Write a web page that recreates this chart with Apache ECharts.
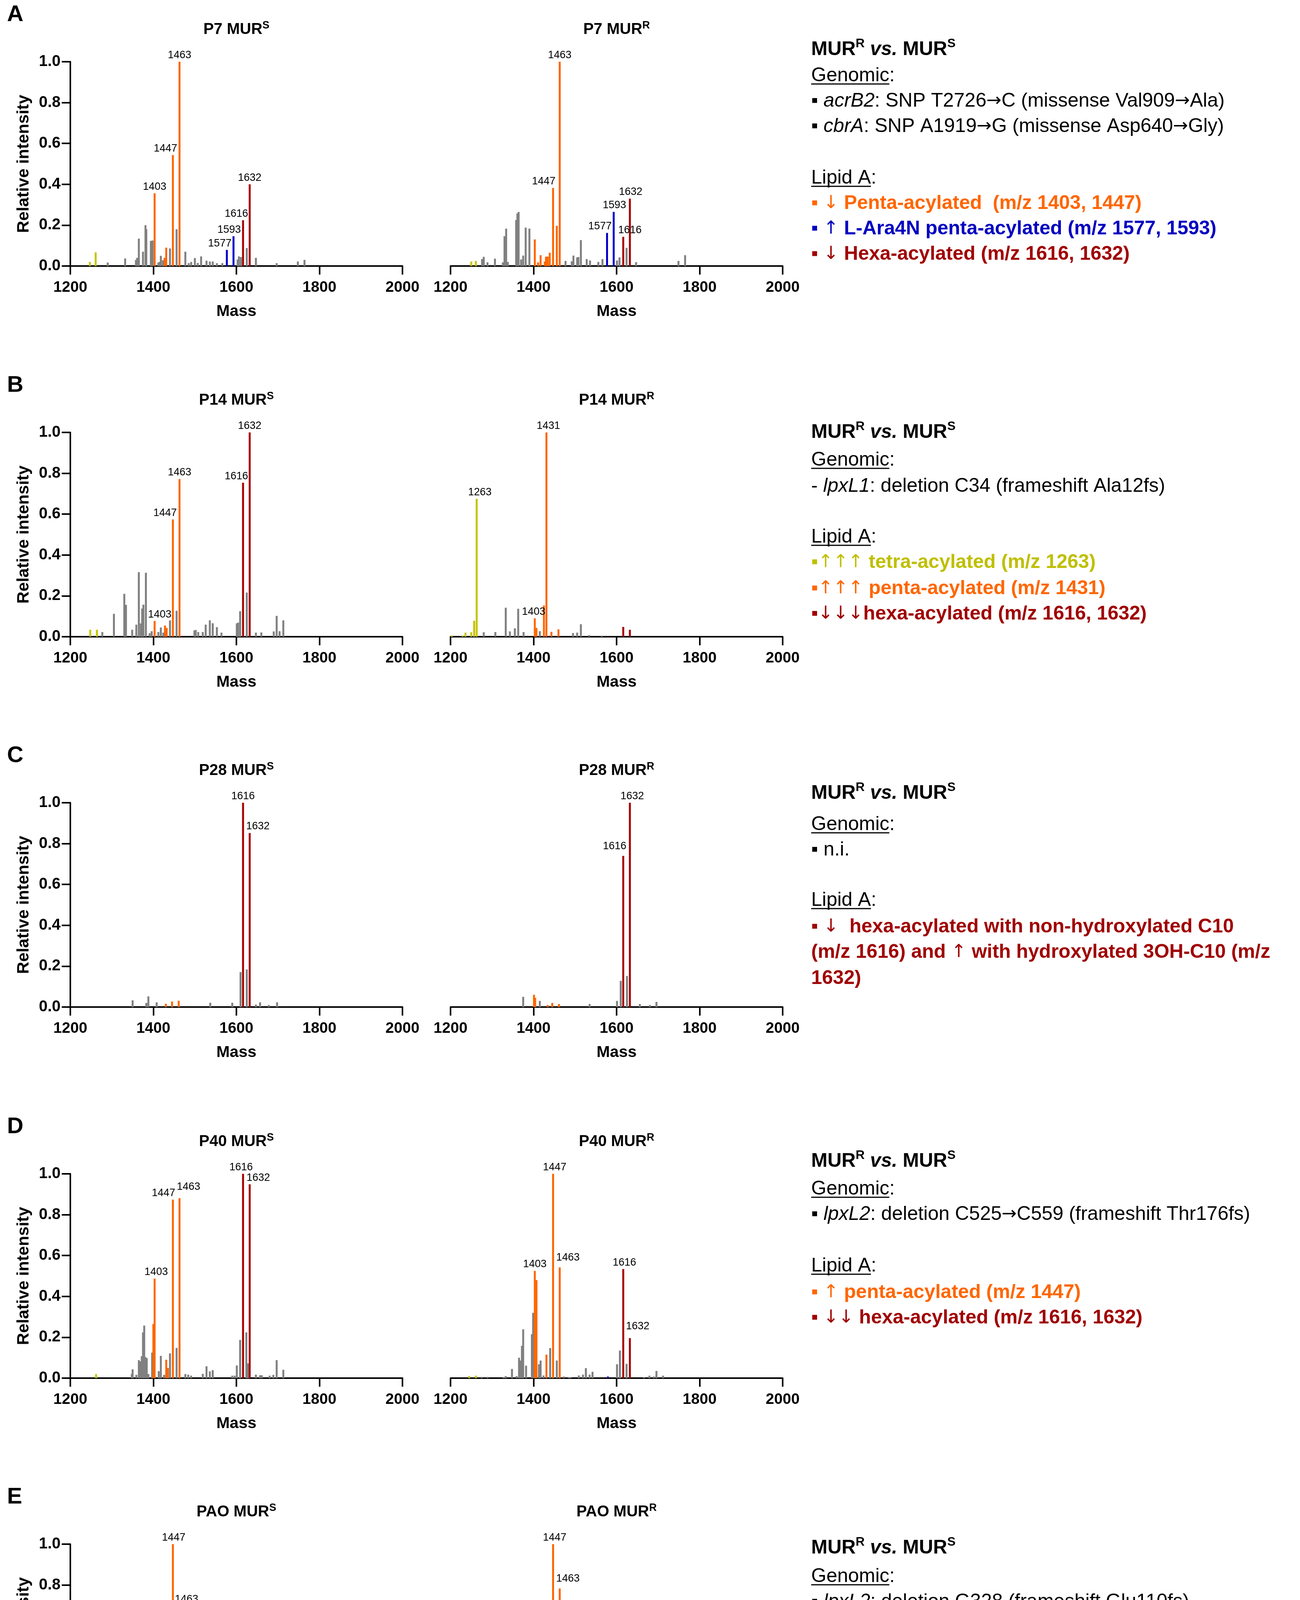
<!DOCTYPE html>
<html>
<head>
<meta charset="utf-8">
<script src="https://cdn.jsdelivr.net/npm/echarts@6/dist/echarts.min.js"></script>
<style>
    html, body { margin: 0; padding: 0; background: #fff; }
    #chart { width: 3327px; height: 4620px; }
</style>
</head>
<body>
<div id="chart"></div>
<script>
// ---- data: [m/z, relative intensity] per lipid A class ----

// P7 MUR-S
let p7S_gray = [[1290, 0.017], [1332, 0.037], [1358, 0.03], [1361, 0.04], [1365, 0.134], [1375, 0.07], [1381, 0.20], [1383, 0.18], [1394, 0.123], [1398, 0.125], [1412, 0.017], [1415, 0.02], [1418, 0.05], [1423, 0.028], [1440, 0.086], [1456, 0.18], [1477, 0.07], [1485, 0.014], [1491, 0.02], [1500, 0.039], [1507, 0.015], [1515, 0.047], [1528, 0.026], [1536, 0.022], [1543, 0.022], [1553, 0.014], [1566, 0.014], [1603, 0.032], [1606, 0.047], [1611, 0.044], [1625, 0.088], [1647, 0.04], [1697, 0.014], [1748, 0.022], [1764, 0.03]];
let p7S_tetra = [[1247, 0.02], [1261, 0.067]];
let p7S_penta = [[1403, 0.356], [1427, 0.04], [1431, 0.09], [1447, 0.543], [1463, 1.0]];
let p7S_ara4n = [[1577, 0.079], [1593, 0.146]];
let p7S_hexa = [[1616, 0.224], [1632, 0.40]];

// P7 MUR-R
let p7R_gray = [[1276, 0.034], [1280, 0.045], [1289, 0.018], [1307, 0.036], [1326, 0.018], [1330, 0.146], [1334, 0.183], [1338, 0.02], [1358, 0.225], [1361, 0.257], [1364, 0.265], [1370, 0.032], [1375, 0.051], [1381, 0.188], [1390, 0.183], [1477, 0.025], [1492, 0.023], [1496, 0.051], [1505, 0.042], [1508, 0.044], [1514, 0.127], [1528, 0.034], [1536, 0.027], [1556, 0.02], [1566, 0.034], [1601, 0.027], [1607, 0.042], [1624, 0.089], [1647, 0.019], [1749, 0.025], [1765, 0.053]];
let p7R_tetra = [[1250, 0.022], [1261, 0.025]];
let p7R_penta = [[1403, 0.13], [1411, 0.018], [1417, 0.053], [1427, 0.022], [1430, 0.046], [1434, 0.046], [1439, 0.065], [1447, 0.382], [1456, 0.197], [1463, 1.0]];
let p7R_ara4n = [[1577, 0.162], [1593, 0.265]];
let p7R_hexa = [[1616, 0.143], [1632, 0.33]];

// P14 MUR-S
let p14S_gray = [[1277, 0.023], [1305, 0.112], [1330, 0.21], [1334, 0.156], [1349, 0.034], [1359, 0.059], [1365, 0.316], [1370, 0.065], [1373, 0.138], [1376, 0.157], [1382, 0.313], [1391, 0.017], [1396, 0.027], [1412, 0.023], [1418, 0.045], [1424, 0.02], [1440, 0.08], [1456, 0.127], [1499, 0.031], [1502, 0.033], [1508, 0.023], [1519, 0.023], [1526, 0.059], [1536, 0.08], [1543, 0.066], [1553, 0.047], [1564, 0.02], [1601, 0.065], [1604, 0.069], [1609, 0.125], [1625, 0.216], [1647, 0.02], [1660, 0.021], [1690, 0.026], [1697, 0.102], [1704, 0.027], [1713, 0.08]];
let p14S_tetra = [[1248, 0.034], [1264, 0.034]];
let p14S_penta = [[1403, 0.077], [1428, 0.055], [1432, 0.043], [1447, 0.574], [1463, 0.772]];
let p14S_hexa = [[1616, 0.754], [1632, 1.0]];

// P14 MUR-R
let p14R_gray = [[1280, 0.022], [1308, 0.023], [1333, 0.142], [1343, 0.026], [1355, 0.041], [1363, 0.137], [1376, 0.023], [1415, 0.027], [1495, 0.018], [1505, 0.02], [1514, 0.061], [1534, 0.008], [1564, 0.005]];
let p14R_tetra = [[1203, 0.006], [1229, 0.006], [1236, 0.02], [1250, 0.022], [1257, 0.078], [1263, 0.675]];
let p14R_penta = [[1403, 0.09], [1407, 0.043], [1425, 0.153], [1431, 1.0], [1443, 0.024], [1460, 0.036]];
let p14R_hexa = [[1616, 0.048], [1632, 0.034]];

// P28 MUR-S
let p28S_gray = [[1350, 0.033], [1383, 0.02], [1388, 0.052], [1408, 0.023], [1537, 0.021], [1590, 0.021], [1610, 0.171], [1625, 0.184], [1647, 0.012], [1657, 0.023], [1678, 0.01], [1698, 0.023]];
let p28S_penta = [[1430, 0.016], [1445, 0.027], [1461, 0.031]];
let p28S_hexa = [[1616, 1.0], [1632, 0.852]];

// P28 MUR-R
let p28R_gray = [[1375, 0.05], [1415, 0.03], [1535, 0.015], [1601, 0.03], [1610, 0.128], [1625, 0.152], [1656, 0.015], [1680, 0.01], [1696, 0.025]];
let p28R_penta = [[1401, 0.06], [1404, 0.045], [1434, 0.01], [1445, 0.02], [1461, 0.015]];
let p28R_hexa = [[1616, 0.74], [1632, 1.0]];

// P40 MUR-S
let p40S_gray = [[1348, 0.02], [1350, 0.043], [1359, 0.016], [1365, 0.088], [1369, 0.082], [1372, 0.107], [1375, 0.224], [1378, 0.257], [1381, 0.103], [1384, 0.098], [1388, 0.02], [1397, 0.125], [1413, 0.034], [1418, 0.109], [1426, 0.016], [1440, 0.121], [1456, 0.148], [1477, 0.02], [1484, 0.017], [1491, 0.012], [1519, 0.021], [1528, 0.058], [1536, 0.033], [1543, 0.039], [1590, 0.012], [1596, 0.012], [1601, 0.062], [1609, 0.187], [1624, 0.224], [1628, 0.072], [1647, 0.017], [1657, 0.014], [1661, 0.014], [1680, 0.012], [1689, 0.016], [1697, 0.088], [1713, 0.041]];
let p40S_tetra = [[1262, 0.02]];
let p40S_penta = [[1400, 0.265], [1403, 0.487], [1431, 0.09], [1435, 0.05], [1447, 0.874], [1463, 0.881]];
let p40S_hexa = [[1616, 1.0], [1632, 0.949]];

// P40 MUR-R
let p40R_gray = [[1275, 0.006], [1289, 0.006], [1328, 0.005], [1333, 0.01], [1348, 0.045], [1359, 0.01], [1365, 0.1], [1369, 0.086], [1372, 0.158], [1375, 0.239], [1382, 0.061], [1396, 0.215], [1399, 0.32], [1413, 0.068], [1417, 0.086], [1424, 0.013], [1440, 0.147], [1456, 0.086], [1473, 0.008], [1485, 0.005], [1489, 0.005], [1509, 0.013], [1519, 0.017], [1526, 0.049], [1535, 0.017], [1542, 0.031], [1601, 0.068], [1608, 0.135], [1624, 0.07], [1666, 0.005], [1679, 0.012], [1690, 0.008], [1696, 0.035], [1712, 0.012]];
let p40R_tetra = [[1245, 0.01], [1261, 0.012]];
let p40R_penta = [[1403, 0.525], [1407, 0.48], [1431, 0.115], [1447, 1.0], [1463, 0.542]];
let p40R_ara4n = [[1579, 0.008]];
let p40R_hexa = [[1616, 0.534], [1632, 0.196]];

// PAO MUR-S
let paoS_gray = [[1349, 0.033], [1365, 0.076], [1367, 0.091], [1371, 0.06], [1374, 0.065], [1377, 0.148], [1381, 0.078], [1384, 0.056], [1391, 0.021], [1396, 0.192], [1412, 0.048], [1415, 0.078], [1418, 0.074], [1424, 0.031], [1440, 0.136], [1456, 0.086], [1485, 0.021], [1508, 0.027], [1519, 0.029], [1528, 0.109], [1536, 0.017], [1543, 0.038], [1590, 0.009], [1606, 0.042], [1609, 0.065], [1624, 0.058], [1647, 0.013], [1678, 0.012], [1689, 0.013], [1697, 0.056], [1713, 0.019]];
let paoS_tetra = [[1227, 0.023], [1230, 0.027], [1246, 0.016], [1262, 0.025]];
let paoS_penta = [[1399, 0.202], [1403, 0.514], [1431, 0.091], [1447, 1.0], [1463, 0.687], [1468, 0.079]];
let paoS_hexa = [[1616, 0.428], [1632, 0.362]];

// PAO MUR-R
let paoR_gray = [[1277, 0.007], [1319, 0.007], [1331, 0.016], [1343, 0.011], [1348, 0.037], [1358, 0.013], [1361, 0.027], [1365, 0.137], [1372, 0.084], [1376, 0.248], [1381, 0.12], [1386, 0.035], [1396, 0.211], [1399, 0.246], [1413, 0.07], [1417, 0.119], [1420, 0.116], [1440, 0.136], [1456, 0.08], [1477, 0.009], [1485, 0.008], [1507, 0.02], [1519, 0.033], [1526, 0.101], [1535, 0.021], [1542, 0.07], [1563, 0.009], [1604, 0.056], [1608, 0.084], [1624, 0.037], [1661, 0.011], [1677, 0.009], [1688, 0.013], [1696, 0.06], [1712, 0.021]];
let paoR_tetra = [[1245, 0.011], [1261, 0.023]];
let paoR_penta = [[1403, 0.665], [1429, 0.09], [1433, 0.03], [1447, 1.0], [1463, 0.783], [1468, 0.05]];
let paoR_hexa = [[1425, 0.02], [1616, 0.346], [1632, 0.197]];

// axis ticks
let massTicks = [1200, 1400, 1600, 1800, 2000];
let intensityTicks = [0, 0.2, 0.4, 0.6, 0.8, 1.0];

let rowLetters = ['A', 'B', 'C', 'D', 'E'];
let strainNames = ['P7', 'P14', 'P28', 'P40', 'PAO'];

// which peaks carry an m/z label, with the label nudge in px [dx, dy]
let peakLabels = [
    [{ 1403: [0, 0], 1447: [-19, 0], 1463: [0, 0], 1577: [-18, 0], 1593: [-11, 0], 1616: [-17, 0], 1632: [0, 0] },
     { 1447: [-24, 0], 1463: [0, 0], 1577: [-18, 0], 1593: [2, 0], 1616: [17, 0], 1632: [2, 0] }],
    [{ 1403: [13, 0], 1447: [-20, 0], 1463: [0, 0], 1616: [-17, 0], 1632: [0, 0] },
     { 1263: [8, 0], 1403: [-3, 0], 1431: [5, 0] }],
    [{ 1616: [0, 0], 1632: [21, 0] },
     { 1616: [-22, -8], 1632: [6, 0] }],
    [{ 1403: [4, 0], 1447: [-24, 0], 1463: [23, -12], 1616: [-5, 0], 1632: [22, 0] },
     { 1403: [0, 0], 1447: [4, 0], 1463: [21, -8], 1616: [3, 0], 1632: [20, -13] }],
    [{ 1403: [0, 0], 1447: [2, 0], 1463: [18, -6], 1616: [-2, -8], 1632: [22, -6] },
     { 1403: [4, 0], 1447: [4, 0], 1463: [21, -8], 1616: [11, -9], 1632: [20, -14] }]
];

let spectra = [
    [{ gray: p7S_gray, tetra: p7S_tetra, penta: p7S_penta, ara4n: p7S_ara4n, hexa: p7S_hexa },
     { gray: p7R_gray, tetra: p7R_tetra, penta: p7R_penta, ara4n: p7R_ara4n, hexa: p7R_hexa }],
    [{ gray: p14S_gray, tetra: p14S_tetra, penta: p14S_penta, hexa: p14S_hexa },
     { gray: p14R_gray, tetra: p14R_tetra, penta: p14R_penta, hexa: p14R_hexa }],
    [{ gray: p28S_gray, penta: p28S_penta, hexa: p28S_hexa },
     { gray: p28R_gray, penta: p28R_penta, hexa: p28R_hexa }],
    [{ gray: p40S_gray, tetra: p40S_tetra, penta: p40S_penta, hexa: p40S_hexa },
     { gray: p40R_gray, tetra: p40R_tetra, penta: p40R_penta, ara4n: p40R_ara4n, hexa: p40R_hexa }],
    [{ gray: paoS_gray, tetra: paoS_tetra, penta: paoS_penta, hexa: paoS_hexa },
     { gray: paoR_gray, tetra: paoR_tetra, penta: paoR_penta, hexa: paoR_hexa }]
];

// ---- layout / style ----
const FONT = '"Liberation Sans", Arial, Helvetica, sans-serif';
const ARROW_FONT = '"DejaVu Sans", "Liberation Sans", sans-serif';
const COLORS = { gray: '#808080', tetra: '#C4C400', penta: '#FF6600', ara4n: '#0000CC', hexa: '#A50000' };
const ROW_TOP = [158, 1107, 2055, 3005, 3953];
const COL_LEFT = [180, 1153];
const PLOT_W = 850;
const PLOT_H = 523;
const TEXT_X = 2076;

let chartDom = document.getElementById('chart');
let chart = echarts.init(chartDom, null, { renderer: 'canvas' });

let grids = [], xAxes = [], yAxes = [], series = [], graphics = [];

function buildBars(idx, spec, labels) {
    let data = [];
    ['gray', 'tetra', 'penta', 'ara4n', 'hexa'].forEach(cls => {
        (spec[cls] || []).forEach(([m, v]) => {
            let item = { value: [m, v], itemStyle: { color: COLORS[cls] } };
            if (cls !== 'gray' && labels[m] && !(cls === 'hexa' && m < 1600)) {
                item.label = {
                    show: true,
                    position: 'top',
                    distance: 3,
                    offset: labels[m],
                    formatter: String(m),
                    fontSize: 27,
                    fontFamily: FONT,
                    color: '#000'
                };
            }
            data.push(item);
        });
    });
    return {
        type: 'bar',
        xAxisIndex: idx,
        yAxisIndex: idx,
        barWidth: 5,
        silent: true,
        animation: false,
        data: data
    };
}

rowLetters.forEach((letter, r) => {
    [0, 1].forEach(c => {
        let idx = r * 2 + c;
        grids.push({
            left: COL_LEFT[c], top: ROW_TOP[r], width: PLOT_W, height: PLOT_H,
            containLabel: false, outerBoundsMode: 'none'
        });
        xAxes.push({
            gridIndex: idx,
            type: 'value',
            min: massTicks[0],
            max: massTicks[massTicks.length - 1],
            interval: massTicks[1] - massTicks[0],
            axisLine: { show: true, onZero: false, lineStyle: { color: '#000', width: 4 } },
            axisTick: { show: true, inside: false, length: 22, lineStyle: { color: '#000', width: 4 } },
            axisLabel: {
                formatter: v => String(v),
                fontSize: 39, fontWeight: 'bold', fontFamily: FONT, color: '#000', margin: 36,
                showMinLabel: true, showMaxLabel: true, hideOverlap: false
            },
            splitLine: { show: false },
            name: 'Mass',
            nameLocation: 'middle',
            nameGap: 96,
            nameTextStyle: { fontSize: 41, fontWeight: 'bold', fontFamily: FONT, color: '#000' }
        });
        if (c === 0) {
            yAxes.push({
                gridIndex: idx,
                type: 'value',
                min: intensityTicks[0],
                max: intensityTicks[intensityTicks.length - 1],
                interval: intensityTicks[1] - intensityTicks[0],
                axisLine: { show: true, lineStyle: { color: '#000', width: 4 } },
                axisTick: { show: true, inside: false, length: 22, lineStyle: { color: '#000', width: 4 } },
                axisLabel: {
                    formatter: v => v.toFixed(1),
                    fontSize: 40, fontWeight: 'bold', fontFamily: FONT, color: '#000', margin: 25,
                    showMinLabel: true, showMaxLabel: true
                },
                splitLine: { show: false },
                name: 'Relative intensity',
                nameLocation: 'middle',
                nameGap: 97,
                nameTextStyle: { fontSize: 43, fontWeight: 'bold', fontFamily: FONT, color: '#000' }
            });
        } else {
            yAxes.push({
                gridIndex: idx, type: 'value', show: false,
                min: intensityTicks[0], max: intensityTicks[intensityTicks.length - 1]
            });
        }
        series.push(buildBars(idx, spectra[r][c], peakLabels[r][c]));

        // panel title, e.g. P7 MUR^S
        graphics.push({
            type: 'text',
            x: COL_LEFT[c] + PLOT_W / 2,
            y: ROW_TOP[r] - 82,
            style: {
                text: '{t|' + strainNames[r] + ' MUR}{s|' + (c === 0 ? 'S' : 'R') + '}',
                align: 'center',
                verticalAlign: 'middle',
                rich: {
                    t: { fontSize: 40, fontWeight: 'bold', fontFamily: FONT, fill: '#000', lineHeight: 48 },
                    s: { fontSize: 27, fontWeight: 'bold', fontFamily: FONT, fill: '#000', lineHeight: 28, verticalAlign: 'top' }
                }
            }
        });
    });
    graphics.push({
        type: 'text',
        x: 18,
        y: ROW_TOP[r] - 120,
        style: {
            text: letter, fontSize: 58, fontWeight: 'bold', fontFamily: FONT, fill: '#000',
            align: 'left', verticalAlign: 'middle'
        }
    });
});

// ---- text panels on the right ----
function tk(size, weight, style, color, family, extra) {
    return Object.assign({ fontSize: size, fontWeight: weight, fontStyle: style, fontFamily: family, fill: color, lineHeight: 62 }, extra || {});
}
const RICH = {
    h: tk(50, 'bold', 'normal', '#000', FONT),
    hi: tk(50, 'bold', 'italic', '#000', FONT),
    hs: tk(32, 'bold', 'normal', '#000', FONT, { lineHeight: 34, verticalAlign: 'top' }),
    n: tk(50, 'normal', 'normal', '#000', FONT),
    na: tk(46, 'normal', 'normal', '#000', ARROW_FONT),
    i: tk(50, 'normal', 'italic', '#000', FONT),
    o: tk(50, 'bold', 'normal', '#FF6600', FONT),
    oa: tk(46, 'normal', 'normal', '#FF6600', ARROW_FONT),
    b: tk(50, 'bold', 'normal', '#0000C0', FONT),
    ba: tk(46, 'normal', 'normal', '#0000C0', ARROW_FONT),
    r: tk(50, 'bold', 'normal', '#A00000', FONT),
    ra: tk(46, 'normal', 'normal', '#A00000', ARROW_FONT),
    y: tk(50, 'bold', 'normal', '#BFBF00', FONT),
    ya: tk(46, 'normal', 'normal', '#BFBF00', ARROW_FONT)
};
const HEAD = '{h|MUR}{hs|R}{h| }{hi|vs.}{h| MUR}{hs|S}';

// split a run of text into rich tokens, arrows get the arrow font
function seg(style, str) {
    return str.split(/([\u2190-\u2193]+)/).filter(s => s.length).map(s =>
        /^[\u2190-\u2193]+$/.test(s) ? '{' + style + 'a|' + s + '}' : '{' + style + '|' + s + '}'
    ).join('');
}

let textPanels = [
    [[127, HEAD], [194, '{n|Genomic:}', 'Genomic'],
     [259, seg('n', '\u25AA ') + '{i|acrB2}' + seg('n', ': SNP T2726\u2192C (missense Val909\u2192Ala)')],
     [324, seg('n', '\u25AA ') + '{i|cbrA}' + seg('n', ': SNP A1919\u2192G (missense Asp640\u2192Gly)')],
     [456, '{n|Lipid A:}', 'Lipid A'],
     [521, seg('o', '\u25AA \u2193 Penta-acylated  (m/z 1403, 1447)')],
     [586, seg('b', '\u25AA \u2191 L-Ara4N penta-acylated (m/z 1577, 1593)')],
     [651, seg('r', '\u25AA \u2193 Hexa-acylated (m/z 1616, 1632)')]],
    [[1107, HEAD], [1178, '{n|Genomic:}', 'Genomic'],
     [1245, '{n|- }{i|lpxL1}{n|: deletion C34 (frameshift Ala12fs)}'],
     [1375, '{n|Lipid A:}', 'Lipid A'],
     [1440, seg('y', '\u25AA\u2191\u2191\u2191 tetra-acylated (m/z 1263)')],
     [1507, seg('o', '\u25AA\u2191\u2191\u2191 penta-acylated (m/z 1431)')],
     [1572, seg('r', '\u25AA\u2193\u2193\u2193hexa-acylated (m/z 1616, 1632)')]],
    [[2031, HEAD], [2111, '{n|Genomic:}', 'Genomic'],
     [2176, '{n|\u25AA n.i.}'],
     [2305, '{n|Lipid A:}', 'Lipid A'],
     [2373, seg('r', '\u25AA \u2193  hexa-acylated with non-hydroxylated C10')],
     [2438, seg('r', '(m/z 1616) and \u2191 with hydroxylated 3OH-C10 (m/z')],
     [2505, seg('r', '1632)')]],
    [[2973, HEAD], [3044, '{n|Genomic:}', 'Genomic'],
     [3109, seg('n', '\u25AA ') + '{i|lpxL2}' + seg('n', ': deletion C525\u2192C559 (frameshift Thr176fs)')],
     [3241, '{n|Lipid A:}', 'Lipid A'],
     [3309, seg('o', '\u25AA \u2191 penta-acylated (m/z 1447)')],
     [3374, seg('r', '\u25AA \u2193\u2193 hexa-acylated (m/z 1616, 1632)')]],
    [[3963, HEAD], [4036, '{n|Genomic:}', 'Genomic'],
     [4101, seg('n', '\u25AA ') + '{i|lpxL2}' + seg('n', ': deletion G328 (frameshift Glu110fs)')],
     [4234, '{n|Lipid A:}', 'Lipid A'],
     [4301, seg('o', '\u25AA \u2191 penta-acylated (m/z 1403, 1463)')],
     [4366, seg('r', '\u25AA \u2193 hexa-acylated (m/z 1616, 1632)')]]
];

let measureCtx = document.createElement('canvas').getContext('2d');
measureCtx.font = '50px ' + FONT;

textPanels.forEach(panel => {
    panel.forEach(([y, txt, underline]) => {
        graphics.push({
            type: 'text',
            x: TEXT_X,
            y: y,
            style: { text: txt, rich: RICH, align: 'left', verticalAlign: 'middle' }
        });
        if (underline) {
            let w = measureCtx.measureText(underline).width;
            graphics.push({
                type: 'line',
                shape: { x1: TEXT_X, y1: y + 21, x2: TEXT_X + w, y2: y + 21 },
                style: { stroke: '#000', lineWidth: 3 }
            });
        }
    });
});

let option = {
    backgroundColor: '#fff',
    animation: false,
    textStyle: { fontFamily: FONT },
    grid: grids,
    xAxis: xAxes,
    yAxis: yAxes,
    series: series,
    graphic: graphics
};

chart.setOption(option);
</script>
</body>
</html>
